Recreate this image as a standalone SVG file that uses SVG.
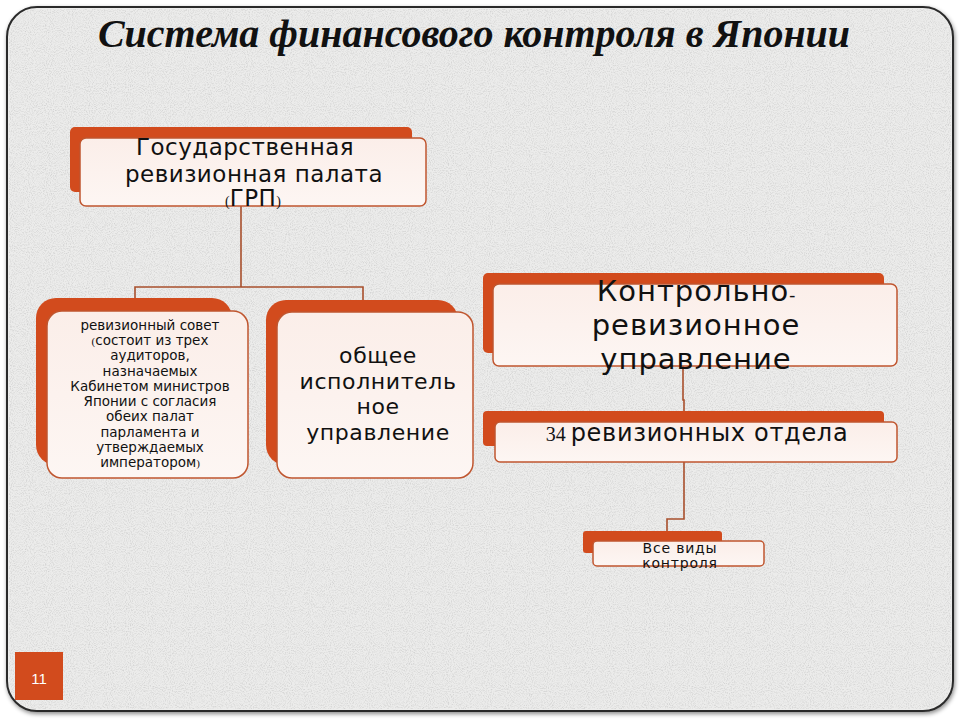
<svg xmlns="http://www.w3.org/2000/svg" width="960" height="720" viewBox="0 0 960 720">
<defs>
<filter id="grain" x="0" y="0" width="100%" height="100%">
<feTurbulence type="fractalNoise" baseFrequency="0.95" numOctaves="2" seed="3" result="n"/>
<feColorMatrix in="n" type="matrix" values="0 0 0 0 0.55  0 0 0 0 0.55  0 0 0 0 0.55  0 0 0 -1.4 0.8" result="g"/>
<feComposite in="g" in2="SourceGraphic" operator="in"/>
</filter>
<filter id="shadow" x="-5%" y="-5%" width="110%" height="110%">
<feGaussianBlur in="SourceAlpha" stdDeviation="2"/>
<feOffset dx="1" dy="2" result="b"/>
<feFlood flood-color="#000" flood-opacity="0.45"/>
<feComposite in2="b" operator="in"/>
<feMerge><feMergeNode/><feMergeNode in="SourceGraphic"/></feMerge>
</filter>
<linearGradient id="pink" x1="0" y1="0" x2="0" y2="1">
<stop offset="0" stop-color="#fbeee9"/>
<stop offset="1" stop-color="#fdf6f3"/>
</linearGradient>
</defs>
<style>
.back{fill:#d24b1d}
.front{fill:url(#pink);stroke:#c0562f;stroke-width:1.5}
.conn{fill:none;stroke:#a84f2c;stroke-width:1.6}
.t{font-family:"DejaVu Sans","Noto Sans",sans-serif;fill:#111;text-anchor:middle}
.s{font-family:"Liberation Serif",serif;letter-spacing:0}
</style>
<rect width="960" height="720" fill="#ffffff"/>
<rect x="7" y="7" width="946" height="704" rx="30" fill="#ececeb" stroke="#2a2a2a" stroke-width="2" filter="url(#shadow)"/>
<rect x="9" y="9" width="942" height="700" rx="28" fill="#ececeb" filter="url(#grain)"/>
<text x="474" y="47" font-family="Liberation Serif,serif" font-weight="bold" font-style="italic" font-size="40" text-anchor="middle" fill="#111">Система финансового контроля в Японии</text>

<g id="connectors">
<path class="conn" d="M241,206 V287 M135,298 V287 H363 V300"/>
<path class="conn" d="M683,366 V400 H684 V411"/>
<path class="conn" d="M684,462 V519 H667 V531"/>
</g>

<g id="grp">
<rect class="back" x="70" y="127" width="342" height="65" rx="5"/>
<rect class="front" x="80" y="138" width="346" height="68" rx="6"/>
<text class="t" font-size="23" letter-spacing="0.5"><tspan x="245" y="155">Государственная</tspan><tspan x="254" y="182">ревизионная палата</tspan><tspan x="253" y="206"><tspan class="s" font-size="14">(</tspan>ГРП<tspan class="s" font-size="14">)</tspan></tspan></text>
</g>

<g id="sovet">
<rect class="back" x="36" y="298" width="196" height="167" rx="20"/>
<rect class="front" x="47" y="311" width="201" height="167" rx="15"/>
<text class="t" font-size="13.5"><tspan x="150" y="330">ревизионный совет</tspan><tspan x="150" y="345"><tspan class="s" font-size="11">(</tspan>состоит из трех</tspan><tspan x="150" y="360">аудиторов,</tspan><tspan x="150" y="376">назначаемых</tspan><tspan x="150" y="391">Кабинетом министров</tspan><tspan x="150" y="406">Японии с согласия</tspan><tspan x="150" y="421">обеих палат</tspan><tspan x="150" y="437">парламента и</tspan><tspan x="150" y="452">утверждаемых</tspan><tspan x="150" y="467">императором<tspan class="s" font-size="11">)</tspan></tspan></text>
</g>

<g id="obshchee">
<rect class="back" x="266" y="300" width="192" height="165" rx="20"/>
<rect class="front" x="277" y="312" width="196" height="166" rx="15"/>
<text class="t" font-size="22" letter-spacing="0.6"><tspan x="378" y="363">общее</tspan><tspan x="378" y="389">исполнитель</tspan><tspan x="378" y="414">ное</tspan><tspan x="378" y="440">управление</tspan></text>
</g>

<g id="kru">
<rect class="back" x="483" y="273" width="401" height="80" rx="5"/>
<rect class="front" x="493" y="284" width="404" height="82" rx="6"/>
<text class="t" font-size="29" letter-spacing="1"><tspan x="696" y="301">Контрольно<tspan class="s" font-size="18">-</tspan></tspan><tspan x="696" y="335">ревизионное</tspan><tspan x="696" y="369">управление</tspan></text>
</g>

<g id="otdely">
<rect class="back" x="483" y="411" width="401" height="35" rx="4"/>
<rect class="front" x="495" y="422" width="402" height="40" rx="5"/>
<text class="t" font-size="24" letter-spacing="0.7" x="697" y="441"><tspan class="s" font-size="20">34 </tspan>ревизионных отдела</text>
</g>

<g id="vidy">
<rect class="back" x="583" y="531" width="139" height="22" rx="3"/>
<rect class="front" x="593" y="541" width="171" height="25" rx="4"/>
<text class="t" font-size="14" letter-spacing="0.8"><tspan x="680" y="553">Все виды</tspan><tspan x="680" y="568">контроля</tspan></text>
</g>

<g id="pagenum">
<rect x="15" y="652" width="48" height="48" fill="#d24b1d"/>
<text x="39" y="684" font-family="Liberation Sans,sans-serif" font-size="15" fill="#fff" text-anchor="middle">11</text>
</g>
</svg>
